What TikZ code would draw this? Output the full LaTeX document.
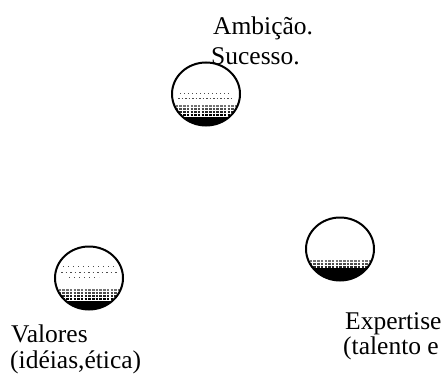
\documentclass[tikz,border=0pt]{standalone}
\usepackage{fontspec}
\setmainfont{Liberation Serif}
\usetikzlibrary{shapes.geometric}

\tikzset{
  % ball with a dark, dithered lower rim
  sphere/.style={
    ellipse, draw=black, line width=2pt, fill=white, inner sep=0pt,
    minimum width=68pt, minimum height=63pt,
    path picture={
      \begin{scope}[shift={(path picture bounding box.center)}]
        \fill[black] (-40,23) rectangle (40,40);
        \foreach \yy/\op in {12/0.55,15/0.7,18/0.85,21/1} {
          \draw[black, opacity=\op, line width=1.3pt,
                dash pattern=on 2.5pt off 1.2pt] (-34,\yy) -- (34,\yy);
        }
        #1
      \end{scope}
    }
  },
  sphere/.default={},
  label text/.style={inner sep=0pt, anchor=base west,
    font=\fontsize{25.5}{30}\selectfont},
}

\begin{document}
\begin{tikzpicture}[x=1pt, y=-1pt]
  \useasboundingbox (0,0) rectangle (446,374);

  % the three balls
  \node[sphere={
      \draw[black!70, line width=0.8pt, dash pattern=on 1pt off 3pt] (-26,-1) -- (26,-1);
      \draw[black!70, line width=0.8pt, dash pattern=on 1.5pt off 2pt] (-28,4) -- (28,4);
    }] (ambicao) at (206,94) {};
  \node[sphere={
      \draw[black!70, line width=0.8pt, dash pattern=on 1pt off 4pt] (-26,-12) -- (26,-12);
      \draw[black!70, line width=0.8pt, dash pattern=on 1.5pt off 3pt] (-28,-6) -- (28,-6);
      \draw[black!70, line width=0.8pt, dash pattern=on 1pt off 4pt] (-20,-1) -- (10,-1);
    }] (valores) at (89,278) {};
  \node[sphere={
      \fill[black] (-40,19) rectangle (40,24);
    }] (expertise) at (340,249) {};

  % labels
  \node[label text] (t1) at (213,35) {Ambição.};
  \node[label text] (t2) at (211,65) {Sucesso.};
  \node[label text] (t3) at (11,342) {Valores};
  \node[label text] (t4) at (10,368) {(idéias,ética)};
  \node[label text] (t5) at (345,329) {Expertise};
  \node[label text] (t6) at (343,354) {(talento e};
\end{tikzpicture}
\end{document}
